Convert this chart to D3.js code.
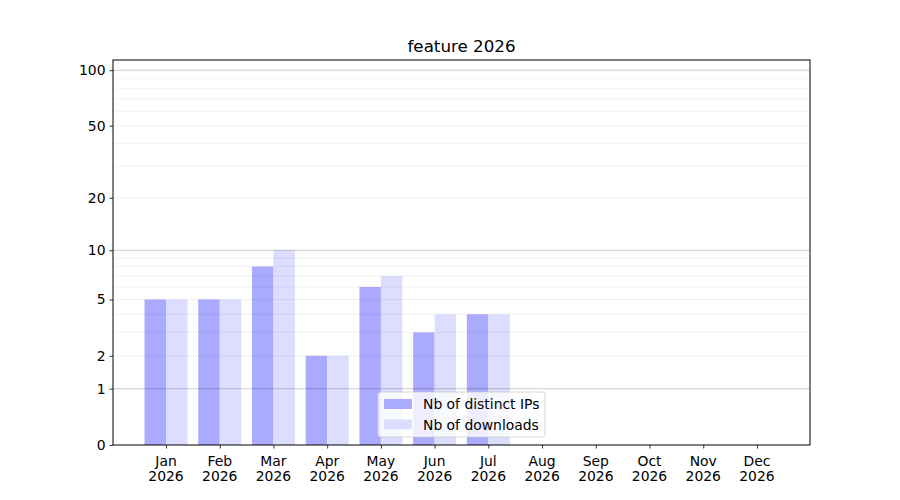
<!DOCTYPE html>
<html><head><meta charset="utf-8">
<script src="https://cdn.jsdelivr.net/npm/d3@7"></script>
<style>body{margin:0;background:#fff}svg{font-family:"DejaVu Sans",sans-serif}</style>
</head><body><svg id="c" width="900" height="500"></svg>
<script>
const months = ["Jan","Feb","Mar","Apr","May","Jun","Jul","Aug","Sep","Oct","Nov","Dec"];
const year = "2026";
const distinctIPs = [5,5,8,2,6,3,4,0,0,0,0,0];
const downloads = [5,5,10,2,7,4,4,0,0,0,0,0];
const majorTicks = [0,1,2,5,10,20,50,100];
const gridMajor = [1,10,100];
const gridMinor = [2,3,4,5,6,7,8,9,20,30,40,50,60,70,80,90];
const seriesNames = ["Nb of distinct IPs","Nb of downloads"];
const colors = ["#aaaaff","#ddddff"];

const svg = d3.select("#c");
const L=113,R=810,T=60,B=445;
const FS = "13.9px";
const f = v => Math.log10(v+1);
const y = d3.scaleLinear().domain([0, (B-T)/187]).range([B,T]);
const yv = v => y(f(v));
const x = d3.scaleLinear().domain([-0.987, 11.987]).range([L,R]);
const bw = x(0.4)-x(0);

const plot = svg.append("g");
plot.selectAll("rect.ip").data(distinctIPs).join("rect")
  .attr("x",(d,i)=>x(i-0.4)).attr("width",bw)
  .attr("y",d=>yv(d)).attr("height",d=>B-yv(d)).attr("fill",colors[0]);
plot.selectAll("rect.dl").data(downloads).join("rect")
  .attr("x",(d,i)=>x(i)).attr("width",bw)
  .attr("y",d=>yv(d)).attr("height",d=>B-yv(d)).attr("fill",colors[1]);

svg.append("g").selectAll("line").data(gridMinor).join("line")
  .attr("x1",L).attr("x2",R).attr("y1",d=>yv(d)).attr("y2",d=>yv(d))
  .attr("stroke","#000").attr("stroke-opacity",0.07).attr("stroke-width",0.8);
svg.append("g").selectAll("line").data(gridMajor).join("line")
  .attr("x1",L).attr("x2",R).attr("y1",d=>yv(d)).attr("y2",d=>yv(d))
  .attr("stroke","#000").attr("stroke-opacity",0.2).attr("stroke-width",1);

// axes
const yAxis = d3.axisLeft(d3.scaleLinear().domain(y.domain()).range(y.range()))
  .tickValues(majorTicks.map(f)).tickFormat((d,i)=>majorTicks[i]).tickSize(3.5).tickPadding(4);
const gy = svg.append("g").attr("transform",`translate(${L},0)`).call(yAxis);
const xAxis = d3.axisBottom(x).tickValues(d3.range(12)).tickFormat(()=>"").tickSize(3.5);
const gx = svg.append("g").attr("transform",`translate(0,${B})`).call(xAxis);
[gx,gy].forEach(g=>{g.select(".domain").remove();g.selectAll("line").attr("stroke","#000").attr("stroke-width",0.8);
  g.selectAll("text").attr("font-size",FS).attr("fill","#000").attr("font-family","DejaVu Sans");});
const xl = svg.append("g").selectAll("text").data(months).join("text")
  .attr("x",(d,i)=>x(i)).attr("y",B+21).attr("text-anchor","middle").attr("font-size",FS);
xl.append("tspan").attr("x",(d,i)=>x(i)).text(d=>d);
xl.append("tspan").attr("x",(d,i)=>x(i)).attr("dy",15).text(year);

svg.append("rect").attr("x",L).attr("y",T).attr("width",R-L).attr("height",B-T)
  .attr("fill","none").attr("stroke","#000").attr("stroke-width",1);

svg.append("text").attr("x",(L+R)/2).attr("y",T-8).attr("text-anchor","middle")
  .attr("font-size","16.7px").text("feature 2026");

// legend
const lg = svg.append("g").attr("transform","translate(378,392)");
lg.append("rect").attr("width",167).attr("height",45).attr("rx",3)
  .attr("fill","#fff").attr("fill-opacity",0.8).attr("stroke","#ccc").attr("stroke-width",0.8);
seriesNames.forEach((n,i)=>{
  lg.append("rect").attr("x",6).attr("y",7+i*20.5).attr("width",28).attr("height",10).attr("fill",colors[i]);
  lg.append("text").attr("x",45).attr("y",17+i*20.5).attr("font-size",FS).text(n);
});
</script></body></html>
